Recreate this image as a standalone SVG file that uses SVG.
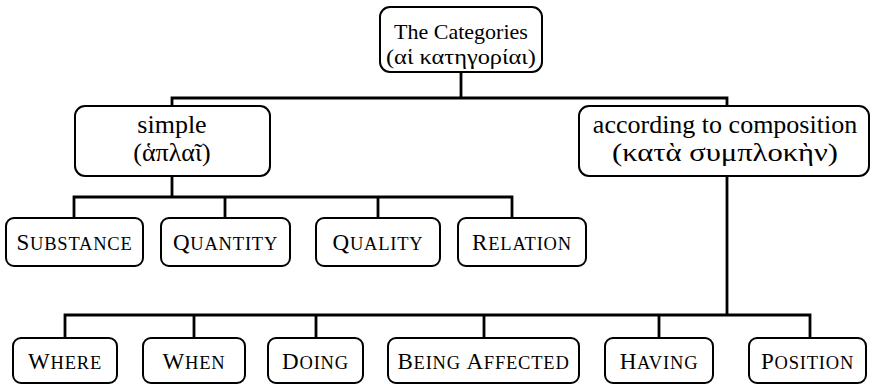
<svg xmlns="http://www.w3.org/2000/svg" width="874" height="387" viewBox="0 0 874 387">
  <style>
    .box { fill: #ffffff; stroke: #000000; stroke-width: 2; }
    .edge { fill: none; stroke: #000000; stroke-width: 2.8; stroke-linecap: square; }
    text { font-family: "Liberation Serif", "Tinos", "Times New Roman", "DejaVu Serif", serif; fill: #000000; text-anchor: middle; }
    .top { font-size: 22px; }
    .mid { font-size: 26px; }
    .sc { font-size: 23px; letter-spacing: 0.8px; }
    .sm { font-size: 18.5px; }
  </style>

  <!-- connectors -->
  <g id="connectors">
    <path class="edge" d="M461,72 V98 M172,98 H727 M172,98 V106 M727,98 V106"/>
    <path class="edge" d="M172,176 V197 M74,197 H512 M74,197 V218 M225,197 V218 M378,197 V218 M512,197 V218"/>
    <path class="edge" d="M727,176 V315 M65,315 H810 M65,315 V338 M194,315 V338 M316,315 V338 M484,315 V338 M659,315 V338 M810,315 V338"/>
  </g>

  <!-- root -->
  <g id="categories">
    <rect class="box" x="380" y="7" width="162" height="65" rx="10"/>
    <text class="top" x="461" y="39">The Categories</text>
    <text class="top" x="461" y="64" textLength="150" lengthAdjust="spacingAndGlyphs">(αἱ κατηγορίαι)</text>
  </g>

  <!-- second level -->
  <g id="simple">
    <rect class="box" x="75" y="106" width="195" height="70" rx="10"/>
    <text class="mid" x="172" y="133">simple</text>
    <text class="mid" x="172" y="161">(ἁπλαῖ)</text>
  </g>
  <g id="composition">
    <rect class="box" x="579" y="106" width="290" height="70" rx="10"/>
    <text class="mid" x="725" y="133">according to composition</text>
    <text class="mid" x="725" y="161" textLength="226" lengthAdjust="spacingAndGlyphs">(κατὰ συμπλοκὴν)</text>
  </g>

  <!-- simple categories -->
  <g id="substance">
    <rect class="box" x="6" y="218" width="137" height="48" rx="8"/>
    <text class="sc" x="74.5" y="250">S<tspan class="sm">UBSTANCE</tspan></text>
  </g>
  <g id="quantity">
    <rect class="box" x="161" y="218" width="129" height="48" rx="8"/>
    <text class="sc" x="225.5" y="250">Q<tspan class="sm">UANTITY</tspan></text>
  </g>
  <g id="quality">
    <rect class="box" x="316" y="218" width="124" height="48" rx="8"/>
    <text class="sc" x="378" y="250">Q<tspan class="sm">UALITY</tspan></text>
  </g>
  <g id="relation">
    <rect class="box" x="458" y="218" width="128" height="48" rx="8"/>
    <text class="sc" x="522" y="250">R<tspan class="sm">ELATION</tspan></text>
  </g>

  <!-- composite categories -->
  <g id="where">
    <rect class="box" x="13" y="338" width="104" height="45" rx="8"/>
    <text class="sc" x="65" y="369">W<tspan class="sm">HERE</tspan></text>
  </g>
  <g id="when">
    <rect class="box" x="143" y="338" width="102" height="45" rx="8"/>
    <text class="sc" x="194" y="369">W<tspan class="sm">HEN</tspan></text>
  </g>
  <g id="doing">
    <rect class="box" x="268" y="338" width="95" height="45" rx="8"/>
    <text class="sc" x="315.5" y="369">D<tspan class="sm">OING</tspan></text>
  </g>
  <g id="being-affected">
    <rect class="box" x="388" y="338" width="191" height="45" rx="8"/>
    <text class="sc" x="483.5" y="369">B<tspan class="sm">EING </tspan>A<tspan class="sm">FFECTED</tspan></text>
  </g>
  <g id="having">
    <rect class="box" x="605" y="338" width="108" height="45" rx="8"/>
    <text class="sc" x="659" y="369">H<tspan class="sm">AVING</tspan></text>
  </g>
  <g id="position">
    <rect class="box" x="749" y="338" width="117" height="45" rx="8"/>
    <text class="sc" x="807.5" y="369">P<tspan class="sm">OSITION</tspan></text>
  </g>
</svg>
